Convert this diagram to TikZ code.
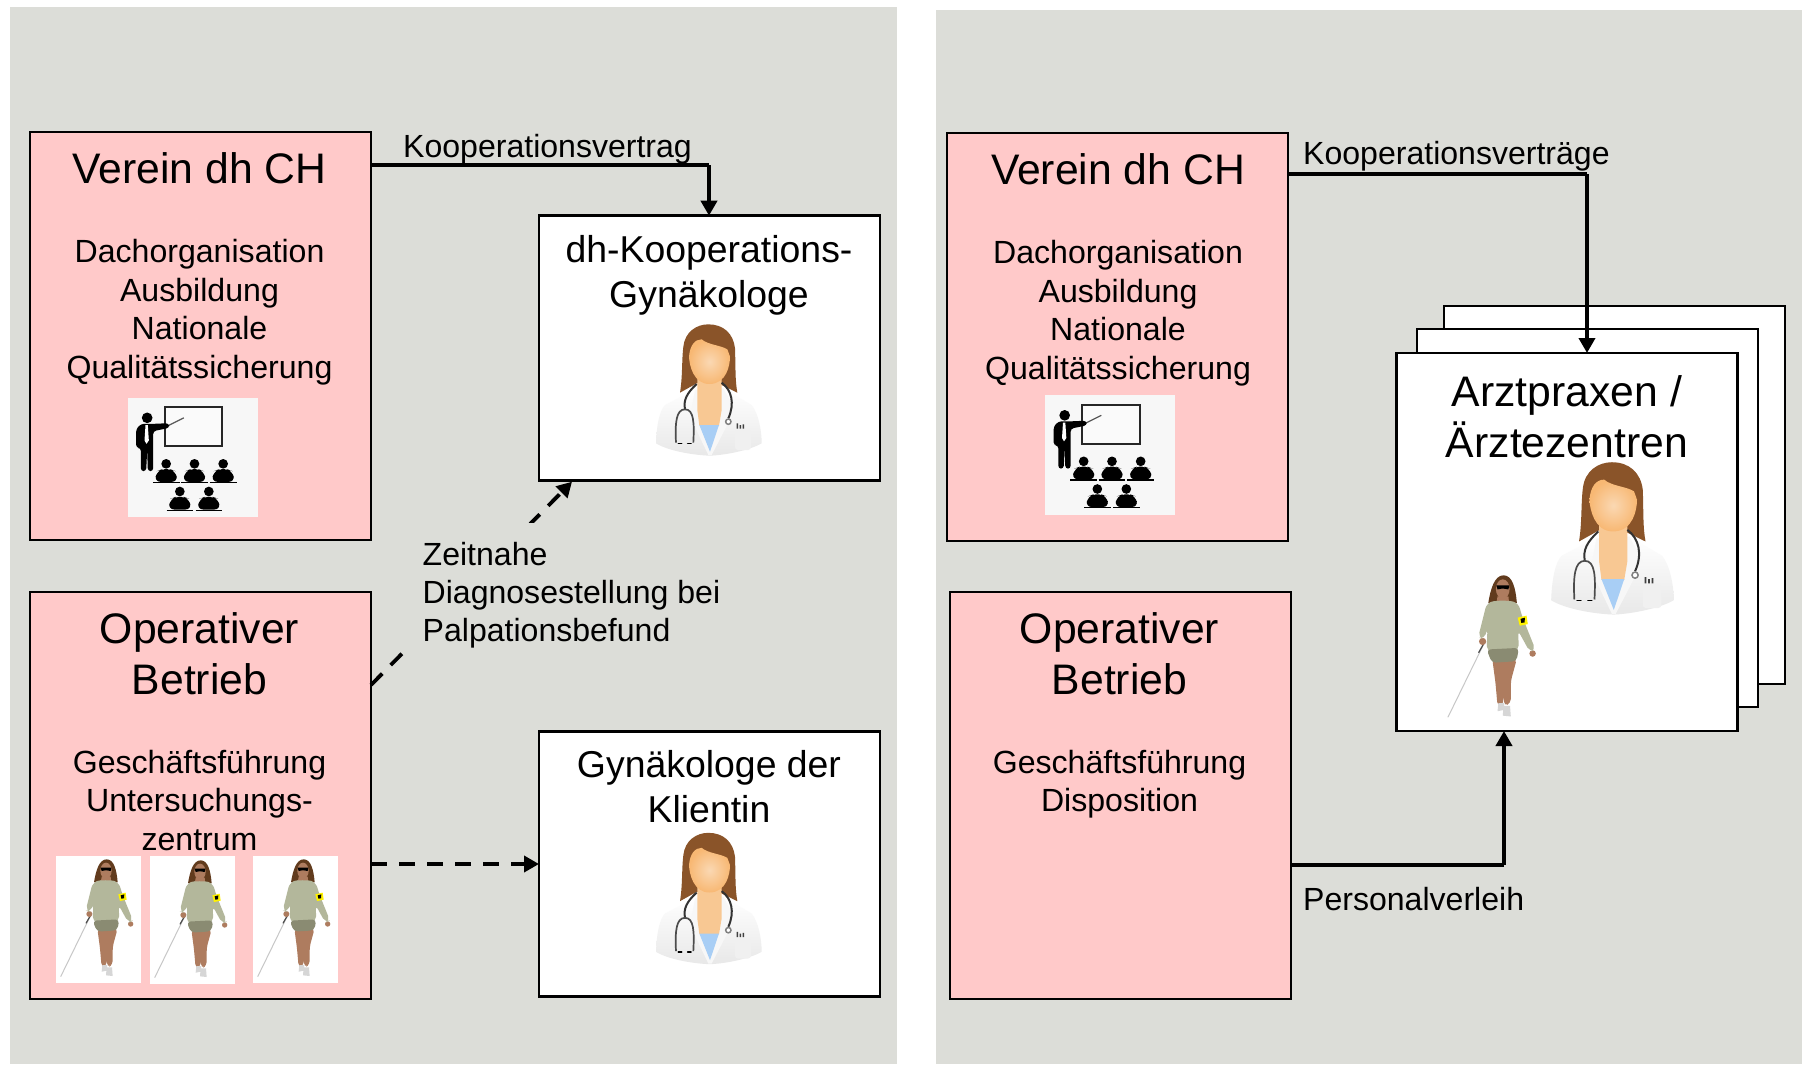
\documentclass[tikz,border=0pt]{standalone}
\usepackage{fontspec}
\setmainfont{Liberation Sans}
\usetikzlibrary{arrows.meta,calc}
\definecolor{panel}{HTML}{DCDDD8}
\definecolor{pinkbox}{HTML}{FFC9C9}
\definecolor{hair}{HTML}{8A5429}
\definecolor{skin}{HTML}{F7BE80}
\definecolor{skinb}{HTML}{AE7C5F}
\definecolor{sweater}{HTML}{B3B79B}
\definecolor{skirt}{HTML}{8A8B72}
\definecolor{shirtblue}{HTML}{A8CEF5}
\tikzset{
  x=1pt,y=-1pt,
  panelbg/.style={fill=panel},
  pinkrect/.style={draw=black,fill=pinkbox,line width=2.8pt,inner sep=0pt,outer sep=0pt,minimum width=341pt},
  whiterect/.style={draw=black,fill=white,line width=2.8pt,inner sep=0pt,outer sep=0pt,minimum width=341pt},
  big/.style={align=center,inner sep=0pt,anchor=north,font=\fontsize{42.7}{51}\selectfont},
  mid/.style={align=center,inner sep=0pt,anchor=north,font=\fontsize{37.4}{45}\selectfont},
  body/.style={align=center,inner sep=0pt,anchor=north,font=\fontsize{32.1}{38.5}\selectfont},
  lab/.style={align=left,inner sep=0pt,anchor=north west,font=\fontsize{32.05}{38}\selectfont},
  conn/.style={draw=black,line width=3.8pt},
  tip/.style={-{Triangle[width=16pt,length=15pt]}},
  dashconn/.style={conn,dash pattern=on 16pt off 12pt},
  doctor/.pic={
    \begin{scope}[scale=1/3]
      \path[shade,top color=white,bottom color=black!9] (48,400) .. controls (50,340) and (60,300) .. (75,285) -- (170,235) -- (250,235) -- (335,285) .. controls (355,310) and (365,360) .. (365,400) .. controls (330,420) and (260,435) .. (210,437) .. controls (150,435) and (80,420) .. (48,400) -- cycle;
      \fill[hair] (120,248) .. controls (128,200) and (125,150) .. (130,110) .. controls (135,65) and (170,43) .. (205,43) .. controls (250,43) and (280,70) .. (285,115) .. controls (287,170) and (285,210) .. (292,248) -- (245,225) -- (170,220) -- cycle;
      \fill[black!3] (165,240) -- (150,320) -- (205,435) -- (215,435) -- (285,300) -- (250,235) -- cycle;
      \fill[skin!85!white] (172,205) -- (172,300) -- (178,347) -- (237,347) -- (245,300) -- (245,205) -- cycle;
      \fill[shirtblue] (178,345) -- (237,345) -- (210,425) -- cycle;
      \path[shade,inner color=skin!60!white,outer color=skin!90!orange] (147,140) .. controls (150,105) and (165,88) .. (185,88) .. controls (205,105) and (240,105) .. (262,118) .. controls (265,125) and (268,135) .. (270,140) .. controls (270,165) and (260,222) .. (208,222) .. controls (160,222) and (148,165) .. (147,140) -- cycle;
      \draw[black!80,line width=2pt] (170,222) .. controls (140,250) and (130,270) .. (135,298);
      \draw[black!80,line width=2pt] (245,218) .. controls (275,240) and (285,280) .. (265,325);
      \draw[black!70,line width=1.7pt] (108,398) .. controls (105,340) and (108,298) .. (135,298) .. controls (162,298) and (163,340) .. (160,398);
      \draw[black,line width=1.6pt,line cap=round] (115,401) -- (125,401) (143,401) -- (153,401);
      \draw[black!50,fill=white,line width=1.5pt] (265,335) circle (8);
      \fill[black!6,rounded corners=3pt] (285,360) rectangle (333,420);
      \fill[black!75] (290,340) rectangle (294,356) (299,345) rectangle (303,356) (308,343) rectangle (312,356);
    \end{scope}
  },
  woman/.pic={
    \begin{scope}[scale=1/3]
      \draw[black!22,line width=1pt] (125,190) -- (32,380);
      \draw[black!70,line width=1.2pt] (125,190) -- (108,220);
      \fill[hair!70!black] (132,97) .. controls (138,60) and (148,28) .. (170,28) .. controls (192,28) and (200,60) .. (203,97) -- (150,92) -- cycle;
      \fill[skinb,rounded corners=4pt] (142,235) -- (203,235) -- (188,290) -- (188,345) -- (172,352) -- (170,325) -- (168,352) -- (155,352) -- (150,295) -- cycle;
      \fill[black!16] (157,345) -- (172,345) -- (170,362) -- (155,365) -- cycle (170,352) -- (186,352) -- (188,378) -- (168,376) -- cycle;
      \fill[skinb] (155,80) -- (182,80) -- (184,100) -- (152,100) -- cycle;
      \fill[skinb] (168,62) ellipse (17 and 24);
      \fill[black] (152,53) -- (184,53) -- (182,63) -- (170,61) -- (166,61) -- (155,63) -- cycle;
      \fill[skinb] (118,192) circle (9) (242,222) circle (8);
      \fill[sweater,rounded corners=5pt] (128,98) .. controls (150,90) and (185,90) .. (207,98) -- (216,130) -- (249,212) -- (235,218) -- (206,165) -- (208,214) -- (128,216) -- (130,160) -- (122,186) -- (107,182) -- cycle;
      \fill[skirt,rounded corners=4pt] (128,212) -- (208,208) -- (202,241) -- (141,245) -- cycle;
      \fill[yellow] (205,133) -- (227,128) -- (230,149) -- (210,153) -- cycle;
      \fill[black] (212,136) -- (223,133) -- (222,145) -- (214,146) -- cycle;
    \end{scope}
  },
  teacher/.pic={
    \begin{scope}[scale=1/3]
      \fill[black!3] (22,22) rectangle (412,380);
      \draw[black!85,fill=black!2,line width=1.8pt] (133,50) rectangle (305,167);
      \draw[black!65,line width=1.3pt] (140,107) -- (190,82);
      \fill[black] (80,82) circle (16);
      \fill[black,rounded corners=3pt] (47,172) -- (47,115) -- (62,100) -- (100,100) -- (145,98) -- (147,112) -- (98,122) -- (98,242) -- (82,242) -- (80,178) -- (77,242) -- (61,242) -- (61,172) -- cycle;
      \fill[white] (75,104) -- (82,104) -- (85,150) -- (78,160) -- (72,150) -- cycle;
      \foreach \hx/\hy in {137/220,222/220,308/220,178/303,265/303}{
        \fill[black] (\hx,\hy) circle (14.5);
        \fill[black,rounded corners=6pt] (\hx-35,\hy+54) -- (\hx-28,\hy+22) -- (\hx-12,\hy+16) -- (\hx+12,\hy+16) -- (\hx+28,\hy+22) -- (\hx+35,\hy+54) -- cycle;
        \draw[black,line width=1.3pt] (\hx-40,\hy+56) -- (\hx+40,\hy+56);
      }
    \end{scope}
  }
}
\begin{document}
\begin{tikzpicture}
\useasboundingbox (0,0) rectangle (1805,1065);
\fill[panelbg] (10,7) rectangle (897,1064);
\fill[panelbg] (936,10) rectangle (1802,1064);

% coordinates for free bends
\coordinate (koopL) at (709,165);
\coordinate (koopR) at (1587,174);
\coordinate (persV) at (1504,865);

% left panel boxes
\node[pinkrect,minimum height=408pt] (verL) at (200.5,336) {};
\node[pinkrect,minimum height=407pt] (opL) at (200.5,795.5) {};
\node[whiterect,minimum height=265pt] (dh) at (709.5,348.2) {};
\node[whiterect,minimum height=265pt] (gyn) at (709.5,864) {};

% right panel boxes
\node[pinkrect,minimum height=408pt] (verR) at (1117.5,337) {};
\node[pinkrect,minimum height=407pt] (opR) at (1120.5,795.5) {};
\node[whiterect,minimum height=378pt] (back) at (1614.5,495) {};
\node[whiterect,minimum height=378pt] (middle) at (1587.5,518) {};
\node[whiterect,minimum height=378pt] (front) at (1567,542) {};

% connectors
\draw[conn] (verL.east |- koopL) -- (koopL);
\draw[conn,tip] (koopL) -- (koopL |- dh.north);
\draw[dashconn,tip] ($(opL.north east)+(0,93)$) -- ($(dh.south west)+(33,1)$);
\draw[dashconn,tip] (opL.east |- gyn.west) -- (gyn.west);
\draw[conn] (verR.east |- koopR) -- (koopR);
\draw[conn,tip] (koopR) -- (koopR |- front.north);
\draw[conn] (opR.east |- persV) -- (persV);
\draw[conn,tip] (persV) -- (persV |- front.south);

% left texts
\node[big] (verLt) at (199.5,152.5) {Verein dh CH};
\node[body] (verLb) at (199.5,239.2) {Dachorganisation\\Ausbildung\\Nationale\\Qualitätssicherung};
\node[big] (opLt) at (199.5,612.5) {Operativer\\Betrieb};
\node[body] (opLb) at (199.5,750) {Geschäftsführung\\Untersuchungs-\\zentrum};
\node[mid] (dht) at (709,235) {dh-Kooperations-\\Gynäkologe};
\node[mid] (gynt) at (709,750) {Gynäkologe der\\Klientin};
\node[lab] (koopLt) at (403,134.5) {Kooperationsvertrag};
\node[lab,fill=panel,inner sep=19pt] (zeit) at (403.5,523) {Zeitnahe\\Diagnosestellung bei\\Palpationsbefund};

% right texts
\node[big] (verRt) at (1118,153.5) {Verein dh CH};
\node[body] (verRb) at (1118,240.2) {Dachorganisation\\Ausbildung\\Nationale\\Qualitätssicherung};
\node[big] (opRt) at (1119.5,612.5) {Operativer\\Betrieb};
\node[body] (opRb) at (1119.5,750) {Geschäftsführung\\Disposition};
\node[big] (arzt) at (1567,375.5) {Arztpraxen /\\Ärztezentren};
\node[lab] (koopRt) at (1303,141.5) {Kooperationsverträge};
\node[lab] (perst) at (1303,887) {Personalverleih};

% pictures
\pic at (120.5,390.5) {teacher};
\pic at (1038,388) {teacher};
\pic at (640,310) {doctor};
\pic at (640,818.5) {doctor};
\pic[scale=1.16] at (1532.6,445.6) {doctor};
\fill[white] (56,856) rectangle (141,983);
\fill[white] (150,856) rectangle (235,984);
\fill[white] (253,856) rectangle (338,983);
\pic at (50,850) {woman};
\pic at (144,851) {woman};
\pic at (247,850) {woman};
\pic[scale=1.21] at (1435,564) {woman};
\end{tikzpicture}
\end{document}
